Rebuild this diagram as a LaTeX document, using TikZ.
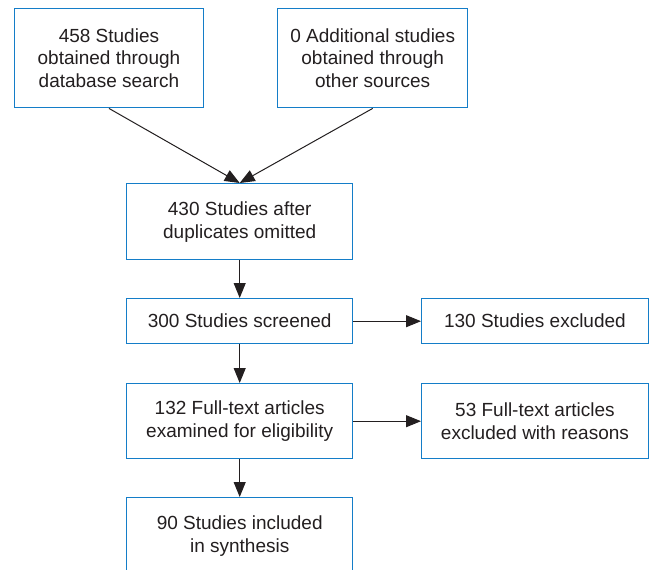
\documentclass[tikz,border=0pt]{standalone}
\usepackage{fontspec}
\setmainfont{Liberation Sans}
\usetikzlibrary{arrows.meta}
\definecolor{boxblue}{RGB}{20,125,200}
\definecolor{ink}{RGB}{35,31,32}
\tikzset{
  flowbox/.style={draw=boxblue, line width=1.4pt, fill=white, inner sep=0pt, align=center,
    text=ink, font=\fontsize{19}{22.8}\selectfont, anchor=north west},
  flowarrow/.style={draw=ink, line width=1pt, -{Triangle[length=15pt,width=12pt]}}
}
\begin{document}
\begin{tikzpicture}[x=1pt,y=-1pt]
\useasboundingbox (0,0) rectangle (649,570);
\clip (0,0) rectangle (649,570);
\fill[white] (0,0) rectangle (649,570);
% boxes
\node[flowbox, minimum width=189.5pt, minimum height=99pt] (b1) at (13.5,8) {458 Studies\\obtained through\\database search};
\node[flowbox, minimum width=190pt, minimum height=99pt] (b2) at (277,8) {0 Additional studies\\obtained through\\other sources};
\node[flowbox, minimum width=226pt, minimum height=76pt] (b3) at (126,183) {430 Studies after\\duplicates omitted};
\node[flowbox, minimum width=226pt, minimum height=45pt] (b4) at (126,298) {300 Studies screened};
\node[flowbox, minimum width=226.5pt, minimum height=45pt] (b5) at (421,298) {130 Studies excluded};
\node[flowbox, minimum width=226pt, minimum height=75pt] (b6) at (126,383) {132 Full-text articles\\examined for eligibility};
\node[flowbox, minimum width=226.5pt, minimum height=75pt] (b7) at (421,383) {53 Full-text articles\\excluded with reasons};
\node[flowbox, minimum width=226pt, minimum height=77pt] (b8) at (126,497) {90 Studies included\\in synthesis};
% connectors
\draw[flowarrow] (b1.south) -- (b3.north);
\draw[flowarrow] (b2.south) -- (b3.north);
\draw[flowarrow] (b3.south) -- (b4.north);
\draw[flowarrow] (b4.east) -- (b5.west);
\draw[flowarrow] (b4.south) -- (b6.north);
\draw[flowarrow] (b6.east) -- (b7.west);
\draw[flowarrow] (b6.south) -- (b8.north);
\end{tikzpicture}
\end{document}
